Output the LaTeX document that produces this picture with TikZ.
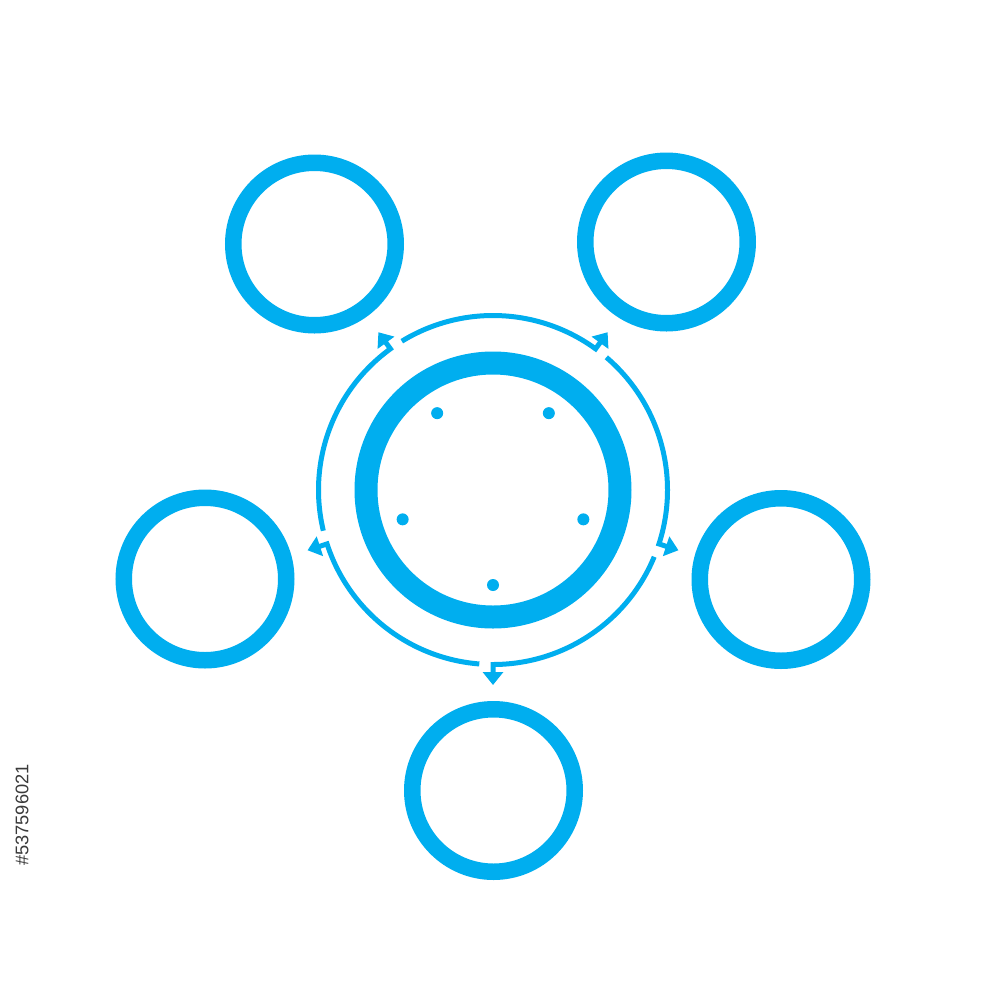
\documentclass[tikz,border=0pt]{standalone}
\usepackage{fontspec}
\setsansfont{Liberation Sans}
\usetikzlibrary{arrows.meta}
\definecolor{cyanblue}{RGB}{0,174,239}
\definecolor{idgray}{RGB}{58,58,58}
\tikzset{
  satellite/.style={circle, draw=cyanblue, line width=1.65mm, minimum size=16.25mm, inner sep=0pt},
  hubring/.style={circle, draw=cyanblue, line width=2.3mm, minimum size=25.4mm, inner sep=0pt},
  hubdot/.style={circle, fill=cyanblue, minimum size=1.2mm, inner sep=0pt},
  flowarc/.style={draw=cyanblue, line width=0.5mm, {Triangle[width=2mm,length=1.3mm]}-}
}
\begin{document}
\begin{tikzpicture}[x=0.1mm, y=-0.1mm]
\fill[white] (0,0) rectangle (1000,1000);
\useasboundingbox (0,0) rectangle (1000,1000);
% satellites
\node[satellite] (s1) at (314.5,244) {};
\node[satellite] (s2) at (666.5,242) {};
\node[satellite] (s3) at (205,579) {};
\node[satellite] (s4) at (781,579.5) {};
\node[satellite] (s5) at (493.5,790.5) {};
% hub
\node[hubring] (hub) at (493,490) {};
\begin{scope}[shift={(493,490)}, x=0.1mm, y=0.1mm]
  \foreach \k/\a in {1/270, 2/342, 3/54, 4/126, 5/198}{
    \node[hubdot] (d\k) at (\a:95) {};
    \coordinate (tip\k) at (\a:195);
    \coordinate (base\k) at (\a:174.5);
    \pgfmathsetmacro{\e}{\a+67.5}
    \draw[flowarc] (tip\k) -- (base\k) arc[start angle=\a, end angle=\e, radius=174.5];
  }
\end{scope}
% stock id
\node[rotate=90, text=idgray, font=\sffamily\fontsize{5.2}{6}\selectfont, inner sep=0pt] (sid) at (22,815) {\#537596021};
\end{tikzpicture}
\end{document}
